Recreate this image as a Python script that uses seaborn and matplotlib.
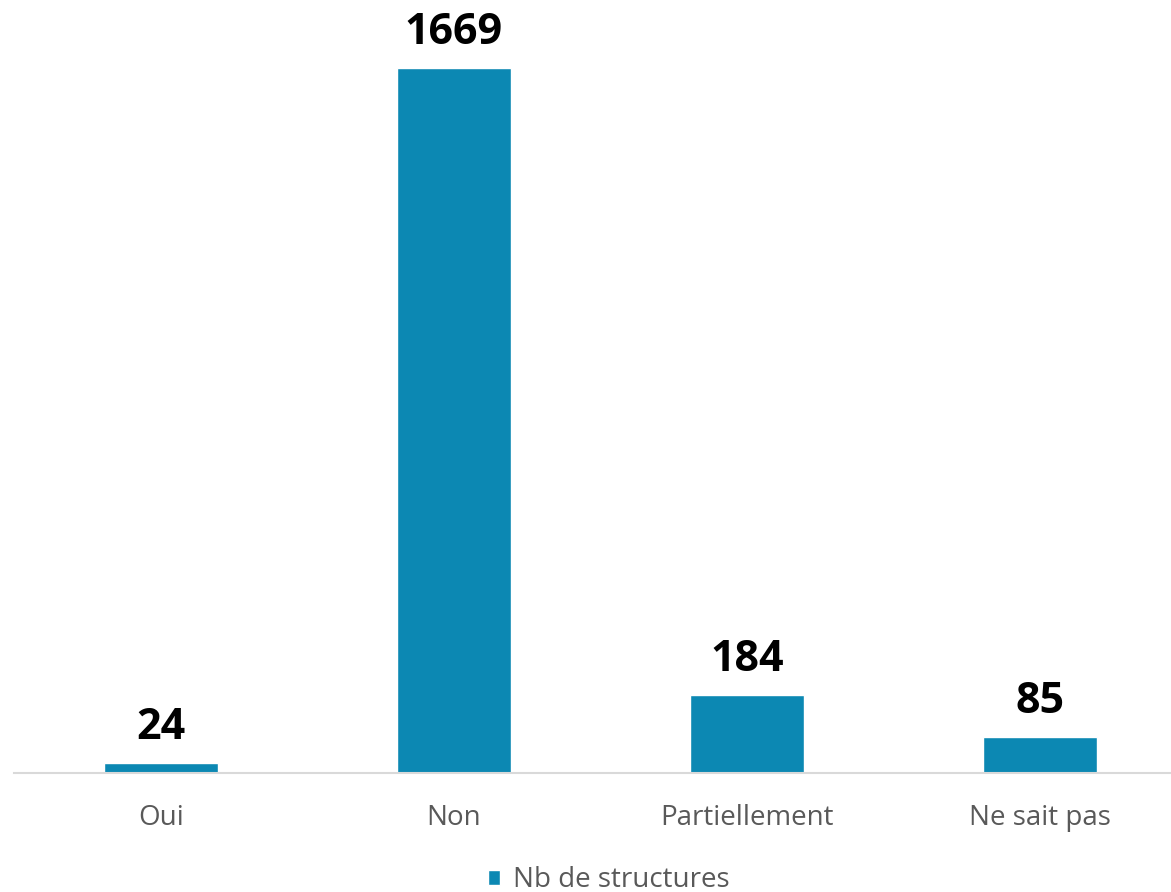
import pandas as pd
import matplotlib
matplotlib.use('Agg')
import matplotlib.pyplot as plt
import seaborn as sns

# data
categories = ['Oui', 'Non', 'Partiellement', 'Ne sait pas']
values = [24, 1669, 184, 85]
series_name = 'Nb de structures'

df = pd.DataFrame({'categorie': categories, 'nb': values})

sns.set_style('white')
plt.rcParams['font.family'] = ['Open Sans', 'DejaVu Sans']

bar_color = '#0C88B3'

fig = plt.figure(figsize=(11.71, 8.92), dpi=100)
# plot area runs slightly past the right edge, as in the original
ax = fig.add_axes([0.012, 0.1334, 1.0017, 0.852])

sns.barplot(data=df, x='categorie', y='nb', color=bar_color, width=0.389,
            saturation=1, ax=ax, label=series_name)

# value labels on top of bars
for i, v in enumerate(values):
    ax.annotate(str(v), (i, v), xytext=(0, 10), textcoords='offset points',
                ha='center', va='bottom', fontsize=31, fontweight='bold', color='black')

ax.set_ylim(0, 1800)
ax.set_xlim(-0.5, 3.5)
ax.set_xlabel('')
ax.set_ylabel('')
ax.set_yticks([])
ax.tick_params(axis='x', length=0, pad=22, labelsize=20, labelcolor='#595959')

for side in ['top', 'right', 'left']:
    ax.spines[side].set_visible(False)
ax.spines['bottom'].set_color('#D9D9D9')
ax.spines['bottom'].set_linewidth(1.5)

leg = ax.legend(loc='center', bbox_to_anchor=(0.507, -0.141), frameon=False,
                fontsize=20, handlelength=0.45, handleheight=0.45, handletextpad=0.45,
                borderpad=0, borderaxespad=0)
for t in leg.get_texts():
    t.set_color('#595959')

fig.savefig('out.png', dpi=100)
